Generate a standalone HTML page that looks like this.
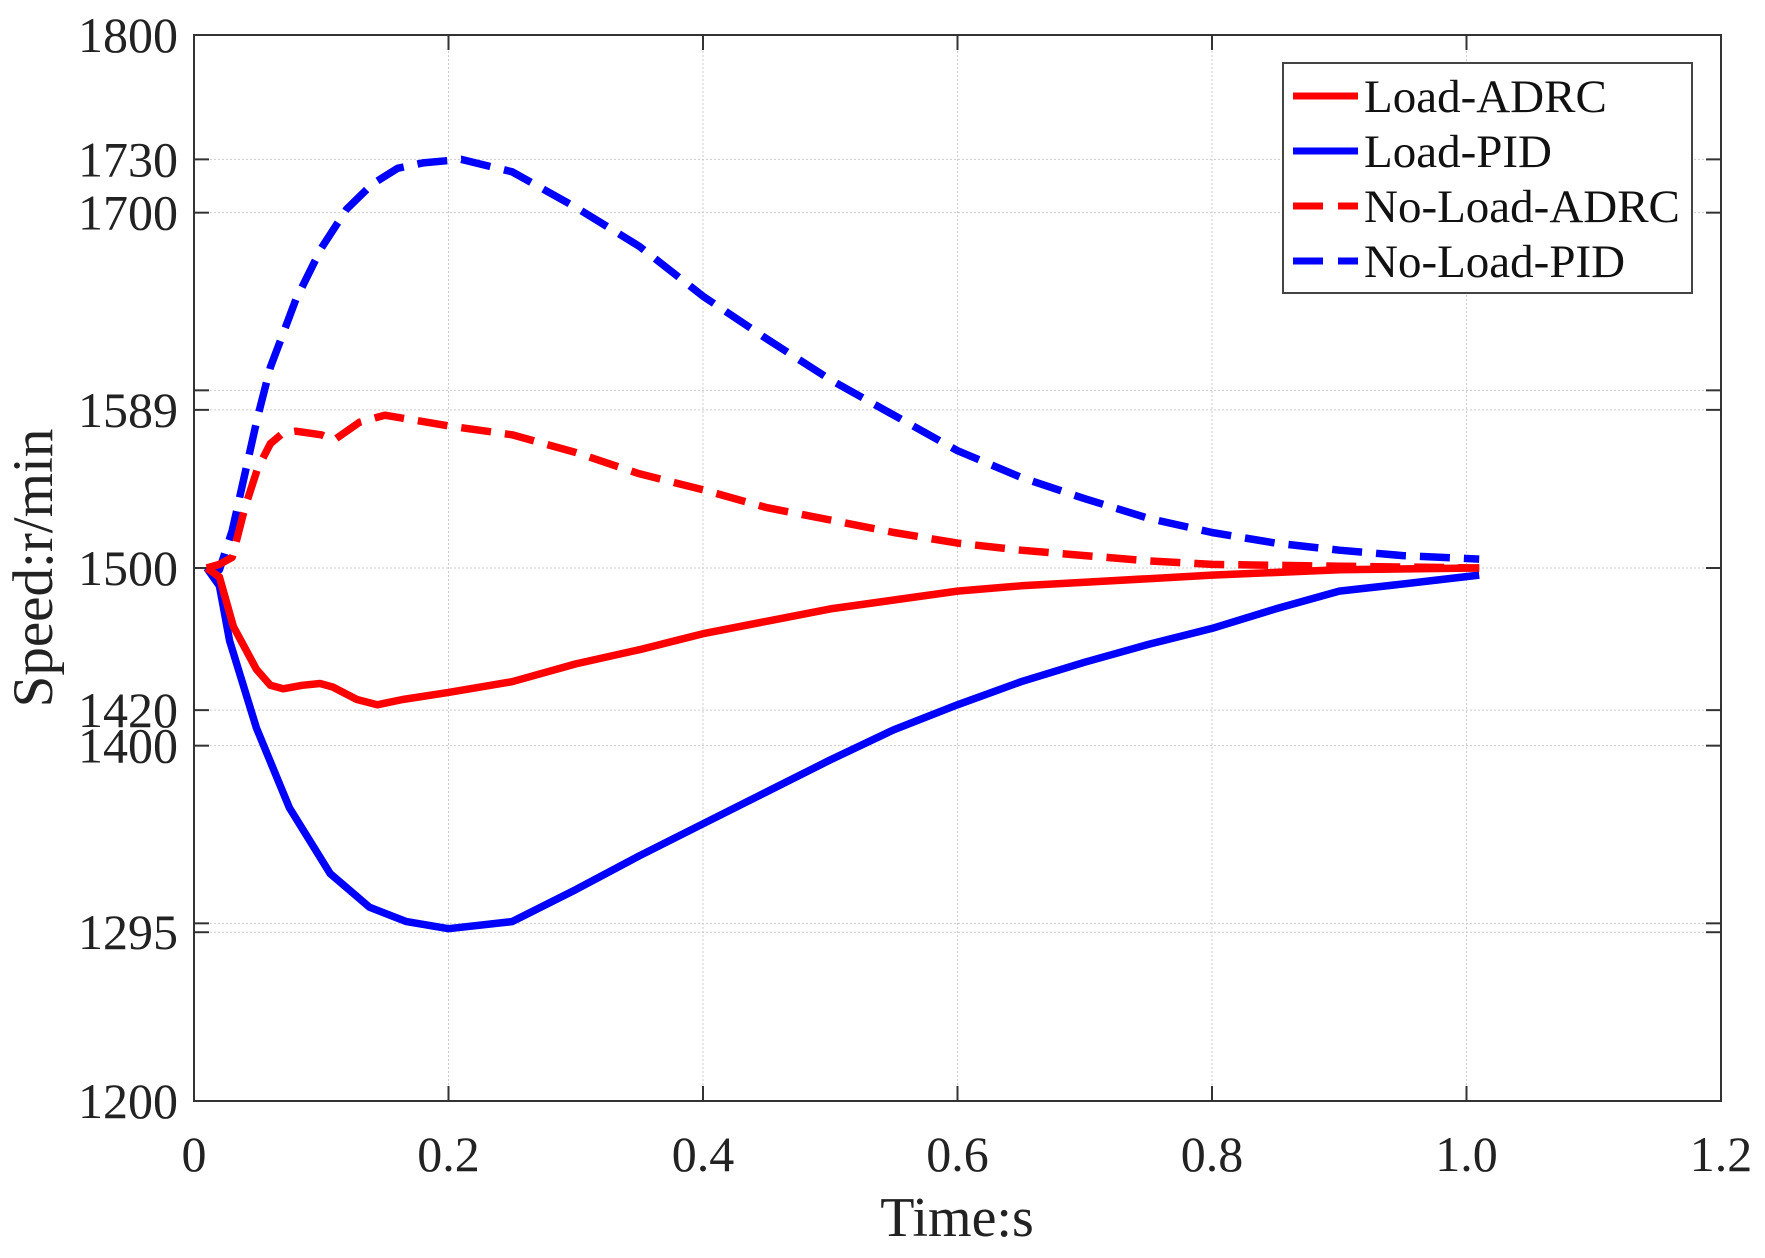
<!DOCTYPE html>
<html><head><meta charset="utf-8"><style>
html,body{margin:0;padding:0;background:#fff;}
svg{display:block;font-family:"Liberation Serif",serif;}
</style></head><body>
<svg id="chart" width="1765" height="1258" viewBox="0 0 1765 1258" xmlns="http://www.w3.org/2000/svg"></svg>
<script>
const time = [0.01,0.02,0.031,0.049,0.06,0.07,0.085,0.099,0.109,0.128,0.144,0.164,0.20,0.25,0.30,0.35,0.40,0.45,0.50,0.55,0.60,0.65,0.70,0.75,0.80,0.90,1.01];
const loadADRC = [1500,1495,1467,1443,1434,1432,1434,1435,1433,1426,1423,1426,1430,1436,1446,1454,1463,1470,1477,1482,1487,1490,1492,1494,1496,1499,1500];
const timePID = [0.01,0.02,0.028,0.049,0.075,0.107,0.138,0.167,0.20,0.25,0.30,0.35,0.40,0.45,0.50,0.55,0.60,0.65,0.70,0.75,0.80,0.85,0.90,0.95,1.01];
const loadPID = [1500,1490,1459,1410,1365,1328,1309,1301,1297,1301,1319,1338,1356,1374,1392,1409,1423,1436,1447,1457,1466,1477,1487,1491,1496];
const timeNA = [0.01,0.02,0.03,0.04,0.05,0.06,0.07,0.08,0.10,0.11,0.13,0.15,0.20,0.25,0.30,0.35,0.40,0.45,0.50,0.55,0.60,0.65,0.70,0.75,0.80,0.90,1.01];
const noLoadADRC = [1500,1502,1506,1534,1556,1570,1576,1577,1575,1572,1582,1586,1580,1575,1565,1553,1544,1534,1527,1520,1514,1510,1507,1504,1502,1501,1500];
const timeNP = [0.01,0.02,0.03,0.04,0.05,0.06,0.08,0.10,0.12,0.14,0.16,0.18,0.21,0.25,0.30,0.35,0.40,0.45,0.50,0.55,0.60,0.65,0.70,0.75,0.80,0.85,0.90,0.95,1.01];
const noLoadPID = [1500,1499,1521,1553,1585,1613,1651,1680,1702,1716,1725,1728,1730,1723,1703,1681,1653,1629,1606,1586,1566,1551,1539,1528,1520,1514,1510,1507,1505];
const xTicks = [0,0.2,0.4,0.6,0.8,1.0,1.2];
const xTickLabels = ["0","0.2","0.4","0.6","0.8","1.0","1.2"];
const yTicks = [1200,1295,1300,1400,1420,1500,1589,1600,1700,1730,1800];
const yTickLabels = ["1200","1295","","1400","1420","1500","1589","","1700","1730","1800"];

const NS="http://www.w3.org/2000/svg";
const svg=document.getElementById('chart');
const L=194,R=1721,T=35,B=1101;
const xs=v=>L+v/1.2*(R-L);
const ys=v=>B-(v-1200)/600*(B-T);
function mk(tag,attrs,parent){const e=document.createElementNS(NS,tag);for(const k in attrs)e.setAttribute(k,attrs[k]);(parent||svg).appendChild(e);return e;}

const grid=mk('g',{});


xTicks.forEach(v=>{const l=mk('line',{x1:xs(v),x2:xs(v),y1:T,y2:B,stroke:'#ccc','stroke-width':1,'stroke-dasharray':'2,2'},grid);

});
yTicks.forEach(v=>{const l=mk('line',{x1:L,x2:R,y1:ys(v),y2:ys(v),stroke:'#ccc','stroke-width':1,'stroke-dasharray':'2,2'},grid);

});

const axes=mk('g',{});


const frame=mk('rect',{x:L,y:T,width:R-L,height:B-T,fill:'none',stroke:'#333','stroke-width':2},axes);


xTicks.forEach((v,i)=>{
 mk('line',{x1:xs(v),x2:xs(v),y1:B,y2:B-15,stroke:'#333','stroke-width':2},axes);
 mk('line',{x1:xs(v),x2:xs(v),y1:T,y2:T+15,stroke:'#333','stroke-width':2},axes);
 const t=mk('text',{x:xs(v),y:1171,'text-anchor':'middle','font-size':50,fill:'#222'},axes);
 t.textContent=xTickLabels[i];
 
 
});
yTicks.forEach((v,i)=>{
 mk('line',{x1:L,x2:L+15,y1:ys(v),y2:ys(v),stroke:'#333','stroke-width':2},axes);
 mk('line',{x1:R,x2:R-15,y1:ys(v),y2:ys(v),stroke:'#333','stroke-width':2},axes);
 if(yTickLabels[i]){const t=mk('text',{x:178,y:ys(v)+17,'text-anchor':'end','font-size':50,fill:'#222'},axes);
 t.textContent=yTickLabels[i];
 
 }
});
const xt=mk('text',{x:957,y:1236,'text-anchor':'middle','font-size':56,fill:'#222'});
xt.textContent='Time:s';


const yt=mk('text',{x:0,y:0,'text-anchor':'middle','font-size':57,fill:'#222',transform:'translate(52,568) rotate(-90)'});
yt.textContent='Speed:r/min';



function series(tx,vals,color,dash,name){
 const d=tx.map((t,i)=>(i?'L':'M')+xs(t).toFixed(1)+','+ys(vals[i]).toFixed(1)).join(' ');
 const p=mk('path',{d:d,fill:'none',stroke:color,'stroke-width':7.5,'stroke-linejoin':'round','stroke-dasharray':dash||'none'});
 
 
}
series(timeNP,noLoadPID,'#0000ff','30,14','no-load-pid-line');
series(timeNA,noLoadADRC,'#ff0000','30,14','no-load-adrc-line');
series(timePID,loadPID,'#0000ff','','load-pid-line');
series(time,loadADRC,'#ff0000','','load-adrc-line');

const lg=mk('g',{});


mk('rect',{x:1283,y:63,width:409,height:230,fill:'#fff',stroke:'#444','stroke-width':2},lg);
const items=[['Load-ADRC','#ff0000',''],['Load-PID','#0000ff',''],['No-Load-ADRC','#ff0000','30,15'],['No-Load-PID','#0000ff','30,15']];
items.forEach((it,i)=>{
 const y=96+i*55;
 mk('line',{x1:1293,x2:1358,y1:y,y2:y,stroke:it[1],'stroke-width':7,'stroke-dasharray':it[2]||'none'},lg);
 const t=mk('text',{x:1364,y:y+16,'font-size':47,fill:'#111'},lg);
 t.textContent=it[0];
 
 
});
</script>
</body></html>
